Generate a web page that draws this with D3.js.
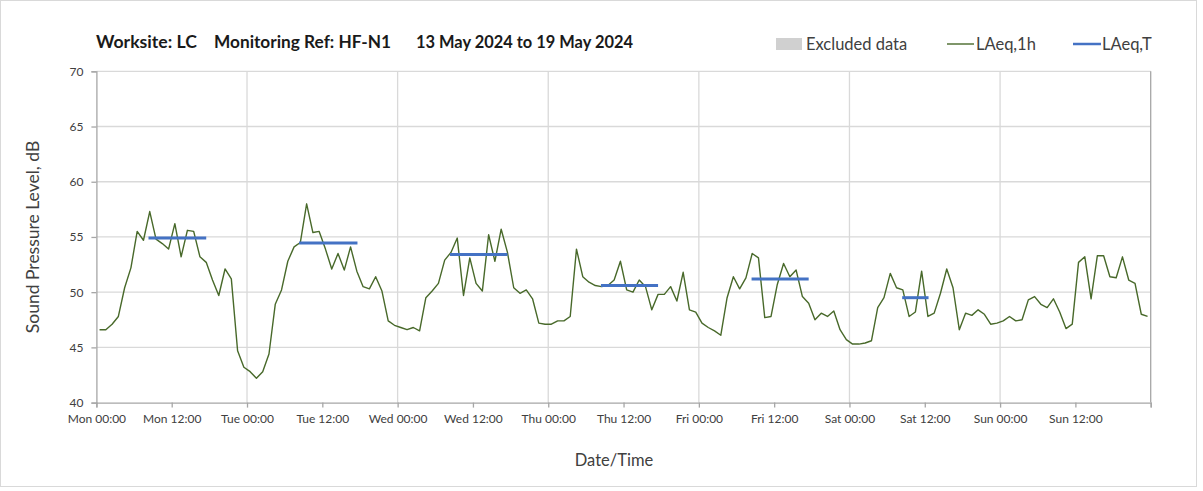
<!DOCTYPE html>
<html>
<head>
<meta charset="utf-8">
<script src="https://cdn.jsdelivr.net/npm/d3@7"></script>
<style>
  body { margin: 0; background: #fff; }
  svg { font-family: Lato, "Open Sans", sans-serif; }
</style>
</head>
<body>
<svg id="chart" width="1203" height="491"></svg>
<script>
// ---------- data ----------
const startTime = new Date(2024, 4, 13, 0, 0);   // Mon 13 May 2024 00:00
const hoursPerPoint = 1;
// LAeq,1h hourly values (dB), Mon 00:00 .. Sun 23:00
const laeq1h = [
  46.6, 46.6, 47.1, 47.8, 50.4, 52.2, 55.5, 54.7, 57.3, 54.8, 54.4, 53.9,
  56.2, 53.2, 55.6, 55.5, 53.2, 52.7, 51.1, 49.7, 52.1, 51.2, 44.7, 43.2,
  42.8, 42.2, 42.8, 44.4, 48.9, 50.2, 52.8, 54.1, 54.5, 58.0, 55.4, 55.5,
  53.9, 52.1, 53.5, 52.0, 54.1, 51.9, 50.5, 50.3, 51.4, 50.1, 47.4, 47.0,
  46.8, 46.6, 46.8, 46.5, 49.5, 50.1, 50.8, 52.9, 53.6, 54.9, 49.7, 53.1,
  50.8, 50.1, 55.2, 52.8, 55.7, 53.6, 50.4, 49.9, 50.2, 49.4, 47.2, 47.1,
  47.1, 47.4, 47.4, 47.8, 53.9, 51.4, 50.9, 50.6, 50.5, 50.6, 51.1, 52.8,
  50.2, 50.0, 51.1, 50.5, 48.4, 49.8, 49.8, 50.5, 49.2, 51.8, 48.4, 48.2,
  47.2, 46.8, 46.5, 46.1, 49.5, 51.4, 50.3, 51.3, 53.5, 53.1, 47.7, 47.8,
  50.7, 52.6, 51.4, 52.0, 49.6, 49.0, 47.5, 48.1, 47.8, 48.3, 46.6, 45.7,
  45.3, 45.3, 45.4, 45.6, 48.6, 49.5, 51.7, 50.4, 50.2, 47.8, 48.2, 51.9,
  47.8, 48.1, 49.9, 52.1, 50.4, 46.6, 48.1, 47.9, 48.4, 48.0, 47.1, 47.2,
  47.4, 47.8, 47.4, 47.5, 49.3, 49.6, 48.9, 48.6, 49.4, 48.2, 46.7, 47.1,
  52.7, 53.2, 49.4, 53.3, 53.3, 51.4, 51.3, 53.2, 51.1, 50.8, 48.0, 47.8
];
// LAeq,T period values: day index, start hour, end hour, level (dB)
const periodDay   = [0, 1, 2, 3, 4, 5];
const periodStart = [8.3, 8.3, 8.35, 8.4, 8.4, 8.4];
const periodEnd   = [17.5, 17.6, 17.5, 17.5, 17.5, 12.6];
const periodLevel = [54.9, 54.45, 53.4, 50.6, 51.2, 49.5];

const yTicks = [40, 45, 50, 55, 60, 65, 70];
const titleParts = ["Worksite: LC", "Monitoring Ref: HF-N1", "13 May 2024 to 19 May 2024"];
const legendLabels = ["Excluded data", "LAeq,1h", "LAeq,T"];

// ---------- layout ----------
const svg = d3.select("#chart");
const plot = { left: 96.4, right: 1150.7, top: 71.3, bottom: 402.6 };
const green = "#48692a", blue = "#4472c4", grid = "#d9d9d9", axisCol = "#a6a6a6";
const textCol = "#404040";

const hourMs = 3600 * 1000;
const endTime = new Date(startTime.getTime() + 168 * hourMs);
const x = d3.scaleTime().domain([startTime, endTime]).range([plot.left, plot.right]);
const y = d3.scaleLinear().domain([40, 70]).range([plot.bottom, plot.top]);

const pts = laeq1h.map((v, i) => ({ t: new Date(startTime.getTime() + (i + 0.5) * hoursPerPoint * hourMs), v }));

// chart border
svg.append("rect").attr("x", 0.5).attr("y", 0.5).attr("width", 1196).attr("height", 486)
  .attr("fill", "#fff").attr("stroke", "#d9d9d9");

// horizontal gridlines
svg.append("g").selectAll("line").data(yTicks.filter(d => d > 40)).join("line")
  .attr("x1", plot.left).attr("x2", plot.right)
  .attr("y1", d => y(d)).attr("y2", d => y(d))
  .attr("stroke", grid).attr("stroke-width", 1.3);

// vertical gridlines at midnight
const dayTicks = d3.timeDay.every(1).range(startTime, new Date(endTime.getTime() + 1));
svg.append("g").selectAll("line").data(dayTicks.slice(1)).join("line")
  .attr("x1", d => x(d)).attr("x2", d => x(d))
  .attr("y1", plot.top).attr("y2", plot.bottom)
  .attr("stroke", d => +d === +endTime ? axisCol : grid).attr("stroke-width", 1.3);

// x axis
const xTickVals = d3.timeHour.every(12).range(startTime, new Date(endTime.getTime() + 1));
const xAxis = d3.axisBottom(x).tickValues(xTickVals).tickSize(5)
  .tickFormat(d => +d === +endTime ? "" : d3.timeFormat("%a %H:%M")(d));
const gx = svg.append("g").attr("transform", `translate(0,${plot.bottom})`).call(xAxis);
gx.select(".domain").attr("stroke", axisCol).attr("stroke-width", 1.3);
gx.selectAll(".tick line").attr("stroke", axisCol).attr("stroke-width", 1.3);
gx.selectAll(".tick text").attr("fill", textCol).attr("font-size", 12).attr("dy", "1.05em")
  .style("font-family", "Lato, sans-serif");

// y axis
const yAxis = d3.axisLeft(y).tickValues(yTicks).tickSize(5).tickFormat(d3.format("d"));
const gy = svg.append("g").attr("transform", `translate(${plot.left},0)`).call(yAxis);
gy.select(".domain").attr("stroke", axisCol).attr("stroke-width", 1.3);
gy.selectAll(".tick line").attr("stroke", axisCol).attr("stroke-width", 1.3);
gy.selectAll(".tick text").attr("fill", textCol).attr("font-size", 12).attr("x", -13)
  .style("font-family", "Lato, sans-serif");

// LAeq,1h line
svg.append("path").datum(pts)
  .attr("d", d3.line().x(d => x(d.t)).y(d => y(d.v)))
  .attr("fill", "none").attr("stroke", green).attr("stroke-width", 1.4)
  .attr("stroke-linejoin", "round");

// LAeq,T segments
const periods = periodDay.map((d, i) => ({
  a: new Date(startTime.getTime() + (d * 24 + periodStart[i]) * hourMs),
  b: new Date(startTime.getTime() + (d * 24 + periodEnd[i]) * hourMs),
  v: periodLevel[i]
}));
svg.append("g").selectAll("line").data(periods).join("line")
  .attr("x1", d => x(d.a)).attr("x2", d => x(d.b))
  .attr("y1", d => y(d.v)).attr("y2", d => y(d.v))
  .attr("stroke", blue).attr("stroke-width", 3);

// title
const titleX = [96, 214, 416];
const titleLen = [101, 177, 217];
svg.append("g").selectAll("text").data(titleParts).join("text")
  .attr("x", (d, i) => titleX[i]).attr("y", 48)
  .attr("font-size", 16.5).attr("font-weight", "bold").attr("fill", "#1a1a1a")
  .attr("textLength", (d, i) => titleLen[i]).attr("lengthAdjust", "spacingAndGlyphs")
  .text(d => d);

// legend
const lg = svg.append("g").attr("font-size", 16.5);
lg.append("rect").attr("x", 776).attr("y", 38).attr("width", 26).attr("height", 12).attr("fill", "#d0d0d0");
lg.append("text").attr("x", 806).attr("y", 50).attr("fill", textCol).text(legendLabels[0]);
lg.append("line").attr("x1", 947).attr("x2", 974).attr("y1", 44).attr("y2", 44).attr("stroke", green).attr("stroke-width", 1.4);
lg.append("text").attr("x", 976).attr("y", 50).attr("fill", textCol).text(legendLabels[1]);
lg.append("line").attr("x1", 1073).attr("x2", 1101).attr("y1", 44).attr("y2", 44).attr("stroke", blue).attr("stroke-width", 2.5);
lg.append("text").attr("x", 1102).attr("y", 50).attr("fill", textCol).text(legendLabels[2]);

// axis titles
svg.append("text").attr("transform", `translate(39,${(plot.top + plot.bottom) / 2}) rotate(-90)`)
  .attr("text-anchor", "middle").attr("font-size", 17.5).attr("fill", textCol)
  .text("Sound Pressure Level, dB");
svg.append("text").attr("x", 614).attr("y", 466)
  .attr("text-anchor", "middle").attr("font-size", 16.5).attr("fill", textCol)
  .text("Date/Time");
</script>
</body>
</html>
